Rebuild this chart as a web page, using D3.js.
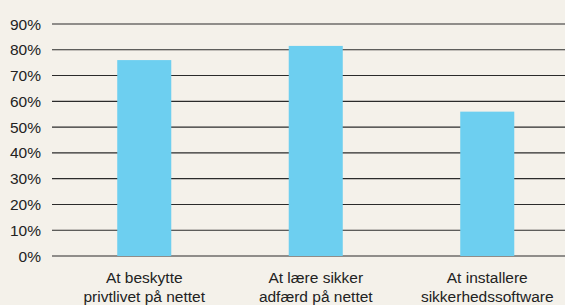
<!DOCTYPE html>
<html>
<head>
<meta charset="utf-8">
<script src="https://cdn.jsdelivr.net/npm/d3@7"></script>
<style>
  body { margin: 0; background: #f4f1ea; }
  svg { display: block; font-family: "Liberation Sans", Arial, sans-serif; }
</style>
</head>
<body>
<div id="chart"></div>
<script>
const categories = [
    ["At beskytte", "privtlivet på nettet"],
    ["At lære sikker", "adfærd på nettet"],
    ["At installere", "sikkerhedssoftware"]
]
const values = [76, 81.5, 56]
const yTicks = [0, 10, 20, 30, 40, 50, 60, 70, 80, 90]

const width = 565
const height = 305

const svg = d3.select("#chart").append("svg").attr("width", width).attr("height", height)
svg.append("rect").attr("width", width).attr("height", height).attr("fill", "#f4f1ea")

const y = d3.scaleLinear().domain([0, 90]).range([256, 24])
const x = d3.scaleBand().domain(d3.range(categories.length)).range([58.5, 573]).paddingInner(0.685).paddingOuter(0.3425)

// gridlines
svg.append("g").selectAll("line").data(yTicks).enter().append("line")
    .attr("x1", 52).attr("x2", width)
    .attr("y1", d => y(d)).attr("y2", d => y(d))
    .attr("stroke", "#2b2b2b").attr("stroke-width", 1.1)

// y labels
svg.append("g").selectAll("text").data(yTicks).enter().append("text")
    .attr("x", 41).attr("y", d => y(d)).attr("dy", "0.36em")
    .attr("text-anchor", "end").attr("font-size", "15.5px").attr("fill", "#222")
    .text(d => d + "%")

// bars
svg.append("g").selectAll("rect").data(values).enter().append("rect")
    .attr("x", (d, i) => x(i)).attr("width", x.bandwidth())
    .attr("y", d => y(d)).attr("height", d => y(0) - y(d))
    .attr("fill", "#6dcff0")

// category labels
const lbl = svg.append("g").selectAll("text").data(categories).enter().append("text")
    .attr("text-anchor", "middle").attr("font-size", "15.5px").attr("fill", "#222")
    .attr("x", (d, i) => x(i) + x.bandwidth() / 2)
lbl.selectAll("tspan").data(d => d).enter().append("tspan")
    .attr("x", function() { return d3.select(this.parentNode).attr("x") })
    .attr("y", (d, j) => 283 + j * 19)
    .text(d => d)
</script>
</body>
</html>
